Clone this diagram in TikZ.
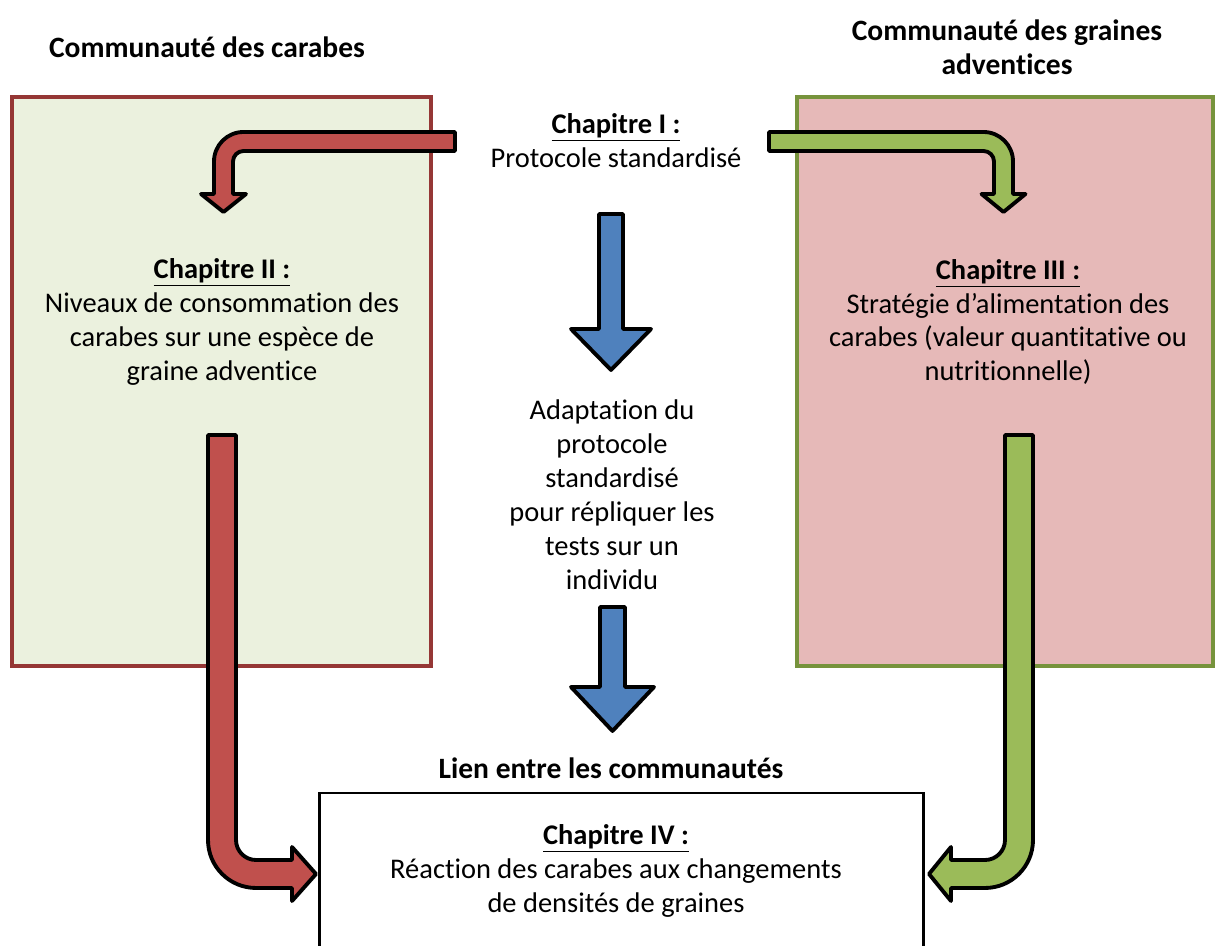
\documentclass[tikz,border=0pt]{standalone}
\usepackage{fontspec}
\setmainfont{Carlito}[Ligatures={NoCommon,NoContextual},Contextuals=NoAlternate]
\definecolor{boxgreen}{HTML}{EBF1DE}
\definecolor{boxpink}{HTML}{E6B9B8}
\definecolor{edgered}{HTML}{953735}
\definecolor{edgegreen}{HTML}{77933C}
\definecolor{arrowred}{HTML}{C0504D}
\definecolor{arrowgreen}{HTML}{9BBB59}
\definecolor{arrowblue}{HTML}{4F81BD}
\tikzset{
  txt/.style={align=center,inner sep=0pt,font=\fontsize{16.2}{19.3}\selectfont},
  title/.style={txt,font=\fontsize{16.8}{19.3}\selectfont\bfseries},
  block/.style={draw=black,line width=2.2pt,line join=round},
}
\begin{document}
\begin{tikzpicture}[x=0.02cm,y=0.02cm]
\useasboundingbox (0,0) rectangle (1217,946);
% boxes
\draw[fill=boxgreen,draw=edgered,line width=2.3pt] (12,849) rectangle (431,280);
\draw[fill=boxpink,draw=edgegreen,line width=2.3pt] (797,849) rectangle (1213,280);
\draw[fill=white,draw=black,line width=1.7pt] (319.5,-20) rectangle (923.5,153);
% titles
\node[title] (tcarabes) at (207,899) {Communauté des carabes};
\node[title] (tgraines) at (1007,899) {Communauté des graines\\adventices};
\node[title] (tlien) at (611,178) {Lien entre les communautés};
% texts
\node[txt] (ch1) at (616,805.5) {\textbf{\underline{Chapitre I :}}\\Protocole standardisé};
\node[txt] (ch2) at (222,624) {\textbf{\underline{Chapitre II :}}\\Niveaux de consommat\kern0pt ion des\\carabes sur une espèce de\\graine adventice};
\node[txt] (ch3) at (1008,624) {\textbf{\underline{Chapitre III :}}\\Stratégie d’alimentation des\\carabes (valeur quantitative ou\\nutrit\kern0pt ionnelle)};
\node[txt] (adapt) at (612,451.5) {Adaptat\kern0pt ion du\\protocole\\standardisé\\pour répliquer les\\tests sur un\\individu};
\node[txt] (ch4) at (616,75) {\textbf{\underline{Chapitre IV :}}\\Réaction des carabes aux changements\\de densités de graines};
% top bent arrows
\draw[block,fill=arrowred] (455,814) -- (243.5,814) arc[start angle=90,end angle=180,radius=0.59cm]
  -- (214,752) -- (201,752) -- (223.5,734) -- (246,752) -- (233,752) -- (233,784.5)
  arc[start angle=180,end angle=90,radius=0.21cm] -- (455,795) -- cycle;
\draw[block,fill=arrowgreen] (769,814) -- (983.5,814) arc[start angle=90,end angle=0,radius=0.59cm]
  -- (1013,752) -- (1025.5,752) -- (1003.5,734) -- (981.5,752) -- (994,752) -- (994,784.5)
  arc[start angle=0,end angle=90,radius=0.21cm] -- (769,795) -- cycle;
% middle arrows
\draw[block,fill=arrowblue] (599,732) -- (623,732) -- (623,617) -- (651,617) -- (611,576)
  -- (571,617) -- (599,617) -- cycle;
\draw[block,fill=arrowblue] (600,339) -- (625,339) -- (625,259) -- (654,259) -- (612.5,215)
  -- (571,259) -- (600,259) -- cycle;
% bottom bent arrows
\draw[block,fill=arrowred] (208,511) -- (208,106) arc[start angle=180,end angle=270,radius=0.96cm]
  -- (292,58) -- (292,45) -- (316,72) -- (292,99) -- (292,86) -- (256,86)
  arc[start angle=270,end angle=180,radius=0.4cm] -- (236,511) -- cycle;
\draw[block,fill=arrowgreen] (1033,511) -- (1033,106) arc[start angle=0,end angle=-90,radius=0.96cm]
  -- (951,58) -- (951,45) -- (929,72) -- (951,99) -- (951,86) -- (985,86)
  arc[start angle=-90,end angle=0,radius=0.4cm] -- (1005,511) -- cycle;
\end{tikzpicture}
\end{document}
